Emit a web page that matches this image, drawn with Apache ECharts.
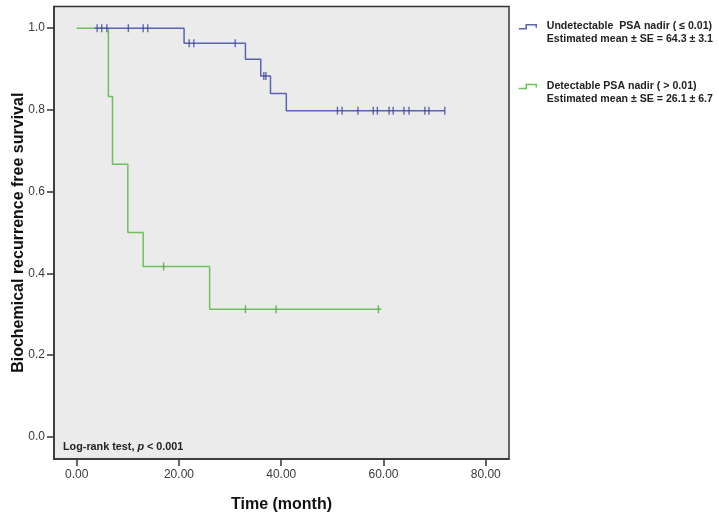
<!DOCTYPE html>
<html>
<head>
<meta charset="utf-8">
<script src="https://cdn.jsdelivr.net/npm/echarts@6/dist/echarts.min.js"></script>
<style>html,body{margin:0;padding:0;background:#fff;}#c{width:719px;height:514px;}</style>
</head>
<body>
<div id="c"></div>
<script>
// ---- data ----
const xTickValues = [0, 20, 40, 60, 80];
const yTickValues = [0, 0.2, 0.4, 0.6, 0.8, 1.0];

const seriesNames = ['Undetectable  PSA nadir ( \u2264 0.01)', 'Detectable PSA nadir ( > 0.01)'];
const meanLines = ['Estimated mean \u00b1 SE = 64.3 \u00b1 3.1', 'Estimated mean \u00b1 SE = 26.1 \u00b1 6.7'];

const blueStepTimes = [3.5, 21, 33, 36, 37.9, 41, 72];
const blueSurvival  = [1.0, 0.963, 0.924, 0.883, 0.840, 0.798, 0.798];
const blueCensorTimes = [4.0, 4.9, 5.9, 10.1, 13.0, 13.9, 22.0, 22.9, 31.0, 36.6, 37.0,
  51.0, 51.9, 55.0, 58.0, 58.8, 61.1, 61.9, 64.0, 65.0, 68.1, 68.9, 72.0];

const greenStepTimes = [0, 6.2, 7.0, 10.0, 13.0, 26.0, 59.6];
const greenSurvival  = [1.0, 0.833, 0.667, 0.5, 0.417, 0.3125, 0.3125];
const greenCensorTimes = [17.0, 33.0, 39.0, 59.0];

// ---- helpers ----
function stepData(times, surv) { return times.map((t, i) => [t, surv[i]]); }
function survAt(times, surv, t) {
  let s = surv[0];
  for (let i = 0; i < times.length; i++) { if (times[i] <= t) s = surv[i]; }
  return s;
}
function censorData(ct, times, surv) { return ct.map(t => [t, survAt(times, surv, t)]); }

const blueLine = '#5b63b3', blueMark = '#3f489f';
const greenLine = '#6cc05c', greenMark = '#4ea63f';
const FONT = "'Liberation Sans', Arial, sans-serif";
// small KM-step glyph drawn in the upper part of a taller icon box
const stepIcon = 'path://M0,0 M36,44 M0,14 L15,14 L15,6 L35,6 L35,12';

const chart = echarts.init(document.getElementById('c'));
chart.setOption({
  animation: false,
  backgroundColor: '#ffffff',
  textStyle: { fontFamily: FONT },
  grid: {
    left: 54, right: 210, top: 6.5, bottom: 55,
    containLabel: false, outerBoundsMode: 'none',
    show: true, backgroundColor: '#ebebeb', borderColor: '#333333', borderWidth: 1.5
  },
  xAxis: {
    type: 'value', min: -4.44, max: 84.55,
    name: 'Time (month)', nameLocation: 'middle', nameGap: 38, nameMoveOverlap: false,
    nameTextStyle: { fontSize: 16, fontWeight: 'bold', color: '#111', fontFamily: FONT },
    splitLine: { show: false },
    axisLine: { show: true, onZero: false, lineStyle: { color: '#333', width: 1.5 } },
    axisTick: { show: true, length: 7, customValues: xTickValues, lineStyle: { color: '#333', width: 1.5 } },
    axisLabel: { customValues: xTickValues, formatter: v => v.toFixed(2), fontSize: 12, color: '#3a3a3a', margin: 10, fontFamily: FONT }
  },
  yAxis: {
    type: 'value', min: -0.054, max: 1.053,
    name: 'Biochemical recurrence free survival', nameLocation: 'middle', nameGap: 27, nameMoveOverlap: false,
    nameTextStyle: { fontSize: 16, fontWeight: 'bold', color: '#111', fontFamily: FONT },
    splitLine: { show: false },
    axisLine: { show: true, onZero: false, lineStyle: { color: '#333', width: 1.5 } },
    axisTick: { show: true, length: 7, customValues: yTickValues, lineStyle: { color: '#333', width: 1.5 } },
    axisLabel: { customValues: yTickValues, formatter: v => v.toFixed(1), fontSize: 12, color: '#3a3a3a', margin: 9, fontFamily: FONT }
  },
  legend: {
    orient: 'vertical', left: 513, top: 15,
    itemWidth: 18, itemHeight: 22, itemGap: 34,
    data: [
      { name: seriesNames[0], icon: stepIcon, itemStyle: { color: 'transparent', borderColor: blueLine, borderWidth: 1.5 } },
      { name: seriesNames[1], icon: stepIcon, itemStyle: { color: 'transparent', borderColor: greenLine, borderWidth: 1.5 } }
    ],
    formatter: name => name + '\n' + meanLines[seriesNames.indexOf(name)],
    textStyle: { fontSize: 10.6, fontWeight: 'bold', color: '#222', lineHeight: 12.8, fontFamily: FONT, padding: [0, 0, 0, 5] }
  },
  graphic: [{
    type: 'text', left: 63, top: 442, silent: true,
    style: {
      text: '{a|Log-rank test, }{p|p}{a| < 0.001}',
      rich: {
        a: { fontSize: 10.8, fontWeight: 'bold', fill: '#222', fontFamily: FONT },
        p: { fontSize: 10.8, fontWeight: 'bold', fontStyle: 'italic', fill: '#222', fontFamily: FONT }
      }
    }
  }],
  series: [
    {
      name: seriesNames[1], type: 'line', step: 'end', symbol: 'none', z: 2,
      data: stepData(greenStepTimes, greenSurvival),
      lineStyle: { color: greenLine, width: 1.5 }, itemStyle: { color: greenLine }
    },
    {
      name: seriesNames[1], type: 'scatter', z: 4, symbol: 'rect', symbolSize: [1.4, 8],
      data: censorData(greenCensorTimes, greenStepTimes, greenSurvival),
      itemStyle: { color: greenMark }
    },
    {
      name: seriesNames[0], type: 'line', step: 'end', symbol: 'none', z: 3,
      data: stepData(blueStepTimes, blueSurvival),
      lineStyle: { color: blueLine, width: 1.5 }, itemStyle: { color: blueLine }
    },
    {
      name: seriesNames[0], type: 'scatter', z: 5, symbol: 'rect', symbolSize: [1.4, 8],
      data: censorData(blueCensorTimes, blueStepTimes, blueSurvival),
      itemStyle: { color: blueMark }
    }
  ]
});
</script>
</body>
</html>
